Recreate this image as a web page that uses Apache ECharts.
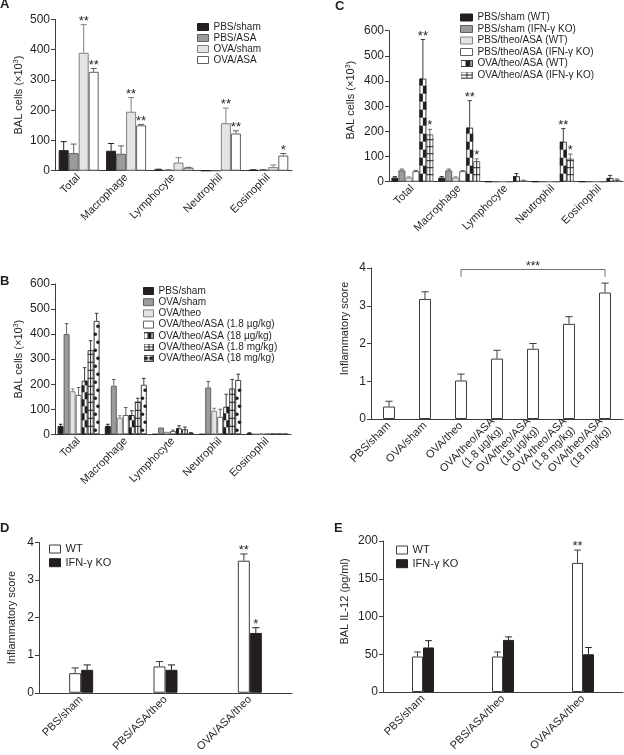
<!DOCTYPE html>
<html>
<head>
<meta charset="utf-8">
<script src="https://cdn.jsdelivr.net/npm/echarts@6/dist/echarts.min.js"></script>
<style>
  html, body { margin: 0; padding: 0; background: #fff; }
  #chart { width: 624px; height: 755px; }
</style>
</head>
<body>
<div id="chart"></div>
<script>
// ---------- data ----------
const cellTypes = ['Total', 'Macrophage', 'Lymphocyte', 'Neutrophil', 'Eosinophil'];

// A
const aGroups = ['PBS/sham', 'PBS/ASA', 'OVA/sham', 'OVA/ASA'];
const aPbsSham    = [68, 66, 3, 0, 2];
const aPbsShamErr = [28, 24, 2, 0, 1];
const aPbsAsa     = [58, 56, 2, 0, 3];
const aPbsAsaErr  = [30, 26, 1, 0, 1];
const aOvaSham    = [390, 195, 27, 157, 12];
const aOvaShamErr = [93, 47, 16, 50, 7];
const aOvaAsa     = [327, 150, 10, 123, 50];
const aOvaAsaErr  = [11, 3, 1, 9, 7];
const aOvaShamSig = ['**', '**', '', '**', ''];
const aOvaAsaSig  = ['**', '**', '', '**', '*'];

// B
const bGroups = ['PBS/sham', 'OVA/sham', 'OVA/theo', 'OVA/theo/ASA (1.8 µg/kg)',
  'OVA/theo/ASA (18 µg/kg)', 'OVA/theo/ASA (1.8 mg/kg)', 'OVA/theo/ASA (18 mg/kg)'];
const bPbsSham     = [33, 33, 0, 0, 4];
const bPbsShamErr  = [7, 7, 0, 0, 2];
const bOvaSham     = [400, 194, 27, 187, 0];
const bOvaShamErr  = [42, 25, 0, 24, 0];
const bOvaTheo     = [172, 66, 10, 94, 2];
const bOvaTheoErr  = [9, 8, 0, 10, 0];
const bAsa1_8ug    = [157, 77, 13, 70, 2];
const bAsa1_8ugErr = [30, 30, 4, 30, 0];
const bAsa18ug     = [214, 77, 24, 110, 2];
const bAsa18ugErr  = [52, 17, 10, 50, 0];
const bAsa1_8mg    = [336, 130, 20, 183, 2];
const bAsa1_8mgErr = [38, 14, 9, 36, 0];
const bAsa18mg     = [453, 198, 5, 217, 2];
const bAsa18mgErr  = [30, 25, 2, 23, 0];

// C
const cGroups = ['PBS/sham (WT)', 'PBS/sham (IFN-γ KO)', 'PBS/theo/ASA (WT)',
  'PBS/theo/ASA (IFN-γ KO)', 'OVA/theo/ASA (WT)', 'OVA/theo/ASA (IFN-γ KO)'];
const cShamWT    = [16, 16, 0, 0, 0];
const cShamWTErr = [4, 4, 0, 0, 0];
const cShamKO    = [45, 45, 0, 0, 0];
const cShamKOErr = [5, 5, 0, 0, 0];
const cTheoWT    = [17, 17, 0, 0, 0];
const cTheoWTErr = [2, 2, 0, 0, 0];
const cTheoKO    = [42, 42, 0, 0, 0];
const cTheoKOErr = [3, 2, 0, 0, 0];
const cOvaWT     = [410, 215, 22, 159, 15];
const cOvaWTErr  = [155, 107, 10, 52, 10];
const cOvaKO     = [188, 82, 5, 92, 8];
const cOvaKOErr  = [20, 9, 1, 18, 3];
const cOvaWTSig  = ['**', '**', '', '**', ''];
const cOvaKOSig  = ['*', '*', '', '*', ''];

// inflammatory score (dose response)
const scoreGroups = ['PBS/sham', 'OVA/sham', 'OVA/theo', 'OVA/theo/ASA\n(1.8 µg/kg)',
  'OVA/theo/ASA\n(18 µg/kg)', 'OVA/theo/ASA\n(1.8 mg/kg)', 'OVA/theo/ASA\n(18 mg/kg)'];
const score    = [0.33, 3.18, 1.02, 1.60, 1.86, 2.52, 3.35];
const scoreErr = [0.14, 0.19, 0.17, 0.22, 0.14, 0.19, 0.25];
const bracketFrom = 2, bracketTo = 6, bracketLevel = 3.96, bracketLegEnd = 3.77, bracketLabel = '***';

// D and E
const koGroups = ['PBS/sham', 'PBS/ASA/theo', 'OVA/ASA/theo'];
const koNames  = ['WT', 'IFN-γ KO'];
const dWT    = [0.52, 0.70, 3.51];
const dWTErr = [0.14, 0.13, 0.18];
const dKO    = [0.61, 0.61, 1.59];
const dKOErr = [0.13, 0.13, 0.14];
const dWTSig = ['', '', '**'];
const dKOSig = ['', '', '*'];
const eWT    = [47, 47, 171];
const eWTErr = [6, 6, 17];
const eKO    = [59, 69, 50];
const eKOErr = [9, 4, 9];
const eWTSig = ['', '', '**'];

// ---------- styles ----------
const ink = '#231f20';
const axisCol = '#3c3c3c';
const fam = '"Liberation Sans", Arial, sans-serif';
const S = {
  black: { fill: ink, border: ink },
  gray:  { fill: '#9b9b9b', border: '#5f5f5f' },
  light: { fill: '#e4e4e4', border: '#828282' },
  white: { fill: '#ffffff', border: '#5f5f5f' },
  whiteDark: { fill: '#ffffff', border: '#3c3c3c' },
  checkB: { fill: '#ffffff', border: '#3c3c3c', pattern: 'checker', ph: 7 },
  gridB:  { fill: '#ffffff', border: '#3c3c3c', pattern: 'grid', ph: 8 },
  dotsB:  { fill: '#ffffff', border: '#3c3c3c', pattern: 'dots', ph: 8 },
  checkC: { fill: '#ffffff', border: '#3c3c3c', pattern: 'checker', ph: 8 },
  gridC:  { fill: '#ffffff', border: '#6a6a6a', pattern: 'grid', ph: 7 }
};

function patternIcon(st, w, h) {
  const c = document.createElement('canvas');
  c.width = w; c.height = h;
  const g = c.getContext('2d');
  g.fillStyle = '#fff'; g.fillRect(0, 0, w, h);
  g.fillStyle = ink; g.strokeStyle = ink; g.lineWidth = 1;
  if (st.pattern === 'checker') g.fillRect(Math.round(w * 0.4), 1, Math.round(w * 0.4), h - 2);
  if (st.pattern === 'grid') {
    g.beginPath();
    g.moveTo(Math.floor(w / 2) + 0.5, 0); g.lineTo(Math.floor(w / 2) + 0.5, h);
    g.moveTo(0, Math.floor(h / 2) + 0.5); g.lineTo(w, Math.floor(h / 2) + 0.5);
    g.stroke();
  }
  if (st.pattern === 'dots') {
    g.beginPath(); g.arc(2.5, h / 2, 2, 0, Math.PI * 2); g.fill();
    g.beginPath(); g.arc(w - 2.5, h / 2, 2, 0, Math.PI * 2); g.fill();
  }
  g.strokeStyle = st.border; g.strokeRect(0.5, 0.5, w - 1, h - 1);
  return 'image://' + c.toDataURL();
}

function patternShapes(st, x0, x1, yb, yt) {
  const out = [], h = st.ph, w = x1 - x0;
  for (let r = 0; yb - r * h > yt + 0.5; r++) {
    const y1 = yb - r * h, y0 = Math.max(yt, y1 - h);
    if (st.pattern === 'checker') {
      out.push({ type: 'rect', shape: { x: r % 2 ? x0 + w / 2 : x0, y: y0, width: w / 2, height: y1 - y0 },
        style: { fill: ink } });
    } else if (st.pattern === 'grid' && r > 0) {
      out.push({ type: 'line', shape: { x1: x0, y1: y1, x2: x1, y2: y1 }, style: { stroke: ink, lineWidth: 1 } });
    } else if (st.pattern === 'dots' && y1 - h >= yt - 1) {
      out.push({ type: 'circle', shape: { cx: r % 2 ? x1 - 1.7 : x0 + 1.7, cy: y1 - h / 2, r: 1.8 },
        style: { fill: ink } });
    }
  }
  if (st.pattern === 'grid') {
    out.push({ type: 'line', shape: { x1: (x0 + x1) / 2, y1: yb, x2: (x0 + x1) / 2, y2: yt },
      style: { stroke: ink, lineWidth: 1 } });
  }
  return out;
}

// ---------- option pieces ----------
const grids = [], xAxes = [], yAxes = [], series = [], legends = [];

function addPanel(box, cats, yMax, yStep, yName, nameGap, nameShift) {
  const k = grids.length;
  grids.push({ left: box[0], top: box[1], width: box[2], height: box[3] });
  xAxes.push({
    gridIndex: k, type: 'category', data: cats,
    axisLine: { lineStyle: { color: axisCol } },
    axisTick: { length: 4, lineStyle: { color: axisCol } },
    axisLabel: { rotate: 45, interval: 0, fontSize: 11, color: ink, margin: 5, fontFamily: fam, lineHeight: 12 }
  });
  yAxes.push({
    gridIndex: k, type: 'value', min: 0, max: yMax, interval: yStep,
    name: yName, nameLocation: 'middle', nameGap: nameGap, nameRotate: 90,
    nameTextStyle: { fontSize: 11, color: ink, fontFamily: fam, padding: [0, 0, 0, nameShift || 0],
      rich: { sup: { fontSize: 7, verticalAlign: 'top', fontFamily: fam, color: ink } } },
    axisLine: { show: true, lineStyle: { color: axisCol } },
    axisTick: { show: true, length: 4, lineStyle: { color: axisCol } },
    axisLabel: { fontSize: 12, color: ink, margin: 5, fontFamily: fam },
    splitLine: { show: false }
  });
  return k;
}

// error whiskers, significance stars and fill patterns for one bar series
function extras(ax, n, i, barW, vals, errs, sig, st) {
  return {
    type: 'custom', xAxisIndex: ax, yAxisIndex: ax, z: 5, silent: true,
    data: vals.map((v, k) => [k, v + errs[k]]),
    renderItem: (params, api) => {
      const k = params.dataIndex;
      const v = vals[k], e = errs[k];
      const top = api.coord([k, v]);
      const base = api.coord([k, 0]);
      const cx = top[0] + (i - (n - 1) / 2) * barW;
      const children = [];
      if (st.pattern && v > 0) children.push(...patternShapes(st, cx - barW / 2, cx + barW / 2, base[1], top[1]));
      let capY = top[1];
      if (e > 0) {
        capY = api.coord([k, v + e])[1];
        const lc = st.border;
        children.push({ type: 'line', shape: { x1: cx, y1: top[1], x2: cx, y2: capY }, style: { stroke: lc, lineWidth: 1 } });
        children.push({ type: 'line', shape: { x1: cx - barW * 0.3, y1: capY, x2: cx + barW * 0.3, y2: capY },
          style: { stroke: lc, lineWidth: 1 } });
      }
      if (sig && sig[k]) {
        children.push({ type: 'text', style: { text: sig[k], x: cx, y: capY - 3.5, align: 'center',
          verticalAlign: 'middle', font: '13px ' + fam, fill: ink } });
      }
      return { type: 'group', children: children };
    }
  };
}

function addBars(ax, names, valsList, errList, sigList, styles, barW) {
  const n = names.length;
  names.forEach((nm, i) => {
    const st = styles[i];
    series.push({
      type: 'bar', name: nm, xAxisIndex: ax, yAxisIndex: ax, barWidth: barW, barGap: '0%', silent: true,
      data: valsList[i], itemStyle: { color: st.fill, borderColor: st.border, borderWidth: 1 }
    });
    series.push(extras(ax, n, i, barW, valsList[i], errList[i], sigList[i], st));
  });
}

function addLegend(left, top, names, styles, iw, ih, gap, fs) {
  legends.push({
    left: left, top: top, orient: 'vertical', padding: 0, itemWidth: iw, itemHeight: ih, itemGap: gap,
    selectedMode: false,
    textStyle: { fontSize: fs, color: ink, fontFamily: fam },
    data: names.map((nm, i) => ({
      name: nm,
      icon: styles[i].pattern ? patternIcon(styles[i], iw, ih) : 'rect',
      itemStyle: { color: styles[i].fill, borderColor: styles[i].border, borderWidth: 1 }
    }))
  });
}

// Panel A
const axA = addPanel([55, 19.5, 237, 151.2], cellTypes, 500, 100, 'BAL cells (×10{sup|3})', 31);
const stA = [S.black, S.gray, S.light, S.white];
addBars(axA, aGroups, [aPbsSham, aPbsAsa, aOvaSham, aOvaAsa],
  [aPbsShamErr, aPbsAsaErr, aOvaShamErr, aOvaAsaErr], [null, null, aOvaShamSig, aOvaAsaSig], stA, 10);
addLegend(197, 22, aGroups, stA, 11, 7, 1, 10);

// Panel B
const axB = addPanel([55, 284, 236, 150.3], cellTypes, 600, 100, 'BAL cells (×10{sup|3})', 31);
const stB = [S.black, S.gray, S.light, S.white, S.checkB, S.gridB, S.dotsB];
addBars(axB, bGroups, [bPbsSham, bOvaSham, bOvaTheo, bAsa1_8ug, bAsa18ug, bAsa1_8mg, bAsa18mg],
  [bPbsShamErr, bOvaShamErr, bOvaTheoErr, bAsa1_8ugErr, bAsa18ugErr, bAsa1_8mgErr, bAsa18mgErr],
  [null, null, null, null, null, null, null], stB, 6);
addLegend(143, 286, bGroups, stB, 10, 7, 1.2, 10);

// Panel C
const axC = addPanel([389, 30.7, 234, 151], cellTypes, 600, 100, 'BAL cells (×10{sup|3})', 33, 12);
const stC = [S.black, S.gray, S.light, S.white, S.checkC, S.gridC];
addBars(axC, cGroups, [cShamWT, cShamKO, cTheoWT, cTheoKO, cOvaWT, cOvaKO],
  [cShamWTErr, cShamKOErr, cTheoWTErr, cTheoKOErr, cOvaWTErr, cOvaKOErr],
  [null, null, null, null, cOvaWTSig, cOvaKOSig], stC, 7);
addLegend(460, 12.5, cGroups, stC, 12, 7, 1.5, 10);

// Inflammatory score panel
const axS = addPanel([371, 268, 252, 151], scoreGroups, 4, 1, 'Inflammatory score', 21, 30);
addBars(axS, ['score'], [score], [scoreErr], [null], [S.whiteDark], 12);
series.push({
  type: 'custom', xAxisIndex: axS, yAxisIndex: axS, z: 5, silent: true,
  data: [[bracketFrom, bracketLevel], [bracketTo, bracketLevel]],
  renderItem: (params, api) => {
    if (params.dataIndex > 0) return { type: 'group', children: [] };
    const a = api.coord([bracketFrom, bracketLevel]);
    const b = api.coord([bracketTo, bracketLevel]);
    const leg = api.coord([bracketFrom, bracketLegEnd])[1];
    return { type: 'group', children: [
      { type: 'polyline', shape: { points: [[a[0], leg], [a[0], a[1]], [b[0], b[1]], [b[0], leg]] },
        style: { stroke: '#707070', fill: null, lineWidth: 1 } },
      { type: 'text', style: { text: bracketLabel, x: (a[0] + b[0]) / 2, y: a[1] - 2.5, align: 'center',
        verticalAlign: 'middle', font: '12px ' + fam, fill: ink } }
    ] };
  }
});

// Panel D
const axD = addPanel([39, 542.3, 253, 151.4], koGroups, 4, 1, 'Inflammatory score', 22);
const stKO = [S.whiteDark, S.black];
addBars(axD, koNames, [dWT, dKO], [dWTErr, dKOErr], [dWTSig, dKOSig], stKO, 12);
addLegend(49, 543.5, koNames, stKO, 11, 8, 2.7, 11);

// Panel E
const axE = addPanel([383, 541, 240, 151], koGroups, 200, 50, 'BAL IL-12 (pg/ml)', 33, 30);
addBars(axE, koNames, [eWT, eKO], [eWTErr, eKOErr], [eWTSig, null], stKO, 11);
addLegend(396, 544.5, koNames, stKO, 11, 8, 2.7, 11);

const letter = (t, left, top) => ({ text: t, left: left, top: top, padding: 0,
  textStyle: { fontSize: 13, fontWeight: 'bold', color: ink, fontFamily: fam } });

const chart = echarts.init(document.getElementById('chart'), null, { renderer: 'canvas' });
chart.setOption({
  animation: false,
  backgroundColor: '#ffffff',
  textStyle: { fontFamily: fam },
  title: [letter('A', 0, -2), letter('B', 0, 275), letter('C', 335, 0), letter('D', 0, 522), letter('E', 334, 522)],
  grid: grids,
  xAxis: xAxes,
  yAxis: yAxes,
  legend: legends,
  series: series
});
</script>
</body>
</html>
